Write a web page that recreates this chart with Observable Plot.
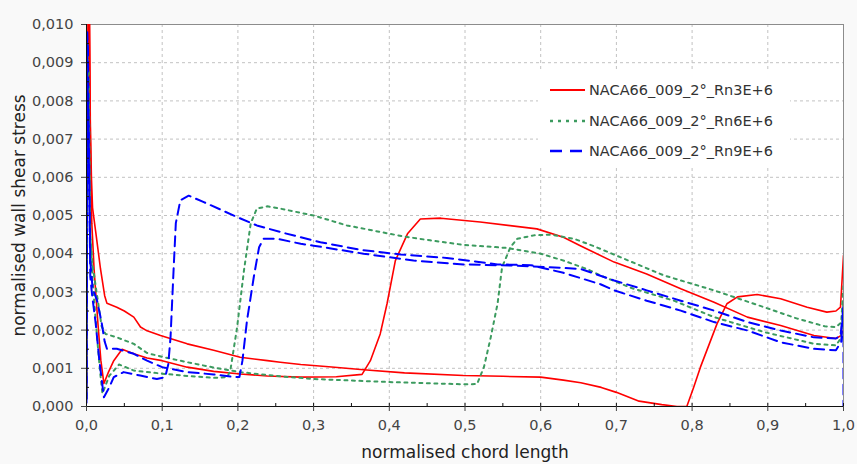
<!DOCTYPE html>
<html><head><meta charset="utf-8">
<script src="https://cdn.jsdelivr.net/npm/d3@7"></script>
<script src="https://cdn.jsdelivr.net/npm/@observablehq/plot@0.6"></script>
<style>
body{margin:0;background:#f9f9f9;font-family:"DejaVu Sans",Verdana,sans-serif}
#wrap{position:relative;width:857px;height:464px}
#legend{position:absolute;left:538px;top:70px;width:252px;height:96px;background:#fff}
#legend .row{position:absolute;left:12px;height:20px;display:flex;align-items:center}
#legend span{font-size:14.5px;color:#333;margin-left:3px;white-space:nowrap}
</style></head><body><div id="wrap"><div id="legend"></div></div>
<script>
// tick values
const xTicks = [0,0.1,0.2,0.3,0.4,0.5,0.6,0.7,0.8,0.9,1.0];
const xMinor = [0.05,0.1,0.15,0.2,0.25,0.3,0.35,0.4,0.45,0.5,0.55,0.6,0.65,0.7,0.75,0.8,0.85,0.9,0.95,1.0];
const yTicks = [0,0.001,0.002,0.003,0.004,0.005,0.006,0.007,0.008,0.009,0.010];
const yMinor = [0.0005,0.001,0.0015,0.002,0.0025,0.003,0.0035,0.004,0.0045,0.005,0.0055,0.006,0.0065,0.007,0.0075,0.008,0.0085,0.009,0.0095];

// series names
const seriesNames = ["NACA66_009_2°_Rn3E+6","NACA66_009_2°_Rn6E+6","NACA66_009_2°_Rn9E+6"];
const seriesColors = ["#ff0000","#3c9b5f","#0000ff"];
const seriesDash = [null,"3,4.5","10,6"];
const seriesWidth = [1.6,2,2];

// Rn3E+6 surface A (laminar, separation near 0.78)
const rn3A = [[0,0.0004],[0.001,0.006],[0.002,0.0104],[0.004,0.0104],[0.005,0.0075],[0.0065,0.006],[0.008,0.0052],[0.012,0.0046],[0.0185,0.0036],[0.024,0.0029],[0.027,0.0027],[0.04,0.0026],[0.05,0.0025],[0.0625,0.00234],[0.0713,0.00208],[0.08,0.00198],[0.0978,0.00186],[0.133,0.00164],[0.168,0.00147],[0.203,0.00129],[0.239,0.0012],[0.256,0.00116],[0.283,0.0011],[0.32,0.00104],[0.366,0.00096],[0.42,0.00088],[0.498,0.00081],[0.55,0.00079],[0.6,0.00077],[0.63,0.00069],[0.653,0.00062],[0.68,0.0005],[0.70,0.00037],[0.73,0.00014],[0.76,0.00005],[0.78,0.0],[0.793,0.0],[0.802,0.0005],[0.811,0.00103],[0.822,0.0016],[0.833,0.00217],[0.846,0.00269],[0.86,0.00287],[0.886,0.00293],[0.917,0.00282],[0.952,0.0026],[0.978,0.00247],[0.99,0.0025],[0.996,0.0026],[1.0,0.00395]];
// Rn3E+6 surface B (transition near 0.37)
const rn3B = [[0,0.0002],[0.0015,0.0085],[0.0035,0.0104],[0.005,0.0071],[0.007,0.0048],[0.01,0.0036],[0.015,0.0022],[0.019,0.0012],[0.023,0.0006],[0.029,0.0009],[0.036,0.0012],[0.047,0.0015],[0.0625,0.00138],[0.08,0.00127],[0.1,0.0012],[0.133,0.00103],[0.168,0.00092],[0.203,0.00085],[0.239,0.0008],[0.283,0.00077],[0.33,0.00078],[0.364,0.00084],[0.375,0.0012],[0.388,0.0019],[0.397,0.00269],[0.408,0.00382],[0.424,0.00452],[0.441,0.00491],[0.468,0.00493],[0.52,0.00483],[0.595,0.00465],[0.63,0.00443],[0.653,0.0042],[0.697,0.00378],[0.74,0.00347],[0.785,0.00308],[0.829,0.00273],[0.873,0.00234],[0.917,0.00212],[0.961,0.00186],[0.99,0.00178],[0.996,0.00185],[1.0,0.002]];
// Rn6E+6 surface A (transition near 0.52)
const rn6A = [[0,0.0002],[0.0015,0.009],[0.003,0.0088],[0.005,0.0045],[0.008,0.0037],[0.014,0.0029],[0.02,0.0021],[0.025,0.0019],[0.04,0.00181],[0.0625,0.00164],[0.08,0.0014],[0.1,0.0013],[0.133,0.00116],[0.168,0.00102],[0.203,0.0009],[0.256,0.00079],[0.3,0.00072],[0.4,0.00064],[0.5,0.00058],[0.516,0.00059],[0.525,0.00103],[0.534,0.00181],[0.543,0.00269],[0.549,0.00365],[0.56,0.00417],[0.569,0.00439],[0.591,0.00448],[0.613,0.0045],[0.644,0.00439],[0.67,0.0042],[0.705,0.00391],[0.763,0.00343],[0.829,0.00304],[0.895,0.0026],[0.939,0.0023],[0.975,0.0021],[0.99,0.00208],[0.997,0.0022],[1.0,0.0032]];
// Rn6E+6 surface B (transition near 0.19)
const rn6B = [[0,0.0003],[0.0015,0.0095],[0.003,0.0075],[0.005,0.0045],[0.008,0.0033],[0.014,0.0018],[0.018,0.0009],[0.021,0.00034],[0.03,0.0008],[0.043,0.0011],[0.0625,0.00094],[0.1,0.00086],[0.133,0.0008],[0.168,0.00075],[0.186,0.00077],[0.19,0.00094],[0.199,0.00208],[0.208,0.00356],[0.217,0.0048],[0.225,0.00518],[0.239,0.00524],[0.256,0.00518],[0.3,0.005],[0.344,0.00474],[0.419,0.00445],[0.454,0.00435],[0.498,0.00423],[0.556,0.00415],[0.6,0.004],[0.63,0.00382],[0.661,0.0036],[0.679,0.00343],[0.72,0.0031],[0.776,0.00277],[0.829,0.00234],[0.895,0.00195],[0.961,0.00164],[0.99,0.0016],[0.997,0.0018],[1.0,0.0028]];
// Rn9E+6 surface A (transition near 0.11)
const rn9A = [[0,0.0001],[0.001,0.0098],[0.002,0.0093],[0.003,0.0065],[0.005,0.0034],[0.0075,0.0029],[0.012,0.0022],[0.017,0.0012],[0.023,0.00024],[0.03,0.0005],[0.036,0.00077],[0.049,0.0009],[0.071,0.00081],[0.093,0.00072],[0.104,0.00077],[0.108,0.0011],[0.111,0.00181],[0.115,0.00356],[0.118,0.0048],[0.124,0.0054],[0.135,0.00552],[0.155,0.00535],[0.199,0.00496],[0.225,0.00474],[0.261,0.00454],[0.309,0.0043],[0.362,0.0041],[0.415,0.00398],[0.476,0.00389],[0.543,0.00372],[0.587,0.0037],[0.63,0.0035],[0.679,0.0032],[0.697,0.00304],[0.74,0.00277],[0.785,0.00251],[0.829,0.00221],[0.873,0.00199],[0.917,0.00168],[0.961,0.00151],[0.99,0.00147],[0.997,0.0017],[1.0,0.0026],[1.0,0]];
// Rn9E+6 surface B (transition near 0.205)
const rn9B = [[0,0.0002],[0.0012,0.0085],[0.003,0.0072],[0.005,0.0038],[0.008,0.0031],[0.014,0.00277],[0.02,0.0022],[0.024,0.0017],[0.027,0.00151],[0.04,0.00151],[0.0625,0.00138],[0.08,0.0012],[0.1,0.00103],[0.133,0.0009],[0.168,0.00084],[0.195,0.00077],[0.202,0.00077],[0.206,0.0012],[0.212,0.00225],[0.221,0.00339],[0.228,0.00417],[0.234,0.00439],[0.252,0.00439],[0.283,0.00426],[0.3,0.00421],[0.366,0.004],[0.432,0.00382],[0.498,0.00372],[0.564,0.00369],[0.609,0.00365],[0.653,0.0036],[0.697,0.0033],[0.74,0.00304],[0.785,0.00277],[0.829,0.00251],[0.873,0.00221],[0.917,0.00199],[0.961,0.00181],[0.99,0.00178],[0.996,0.00185],[1.0,0.0026]];

const curves = [[rn3A,0],[rn3B,0],[rn6A,1],[rn6B,1],[rn9A,2],[rn9B,2]];

const fmtY = d => d3.format(".3f")(d).replace(".", ",");
const fmtX = d => d3.format(".1f")(d).replace(".", ",");

const lineMarks = curves.map(([pts, s]) => Plot.line(pts, {
  x: d => d[0], y: d => d[1], stroke: seriesColors[s],
  strokeWidth: seriesWidth[s], strokeDasharray: seriesDash[s],
  strokeLinejoin: "round", clip: true
}));

const chart = Plot.plot({
  width: 857, height: 464,
  marginLeft: 86, marginRight: 14, marginTop: 24, marginBottom: 58,
  style: {background: "transparent", fontFamily: "DejaVu Sans, Verdana, sans-serif", overflow: "visible"},
  x: {domain: [0, 1]},
  y: {domain: [0, 0.010]},
  marks: [
    Plot.frame({fill: "white", stroke: null}),
    Plot.gridX(xTicks, {stroke: "#c2c2c2", strokeOpacity: 1, strokeDasharray: "3,3"}),
    Plot.gridY(yTicks, {stroke: "#c2c2c2", strokeOpacity: 1, strokeDasharray: "3,3"}),
    Plot.frame({stroke: "#8c8c8c"}),
    ...lineMarks,
    Plot.ruleX([0], {stroke: "#111"}),
    Plot.ruleY([0], {stroke: "#111"}),
    Plot.ruleX(xMinor, {insetTop: 379, stroke: "#111"}),
    Plot.ruleY(yMinor, {insetRight: 754, stroke: "#111"}),
    Plot.axisX(xTicks, {tickSize: 5, tickPadding: 8, tickFormat: fmtX, fontSize: 14.5, color: "#444", label: null}),
    Plot.axisY(yTicks, {tickSize: 5, tickPadding: 8, tickFormat: fmtY, fontSize: 14.5, color: "#444", label: null}),
    Plot.text(["normalised chord length"], {frameAnchor: "bottom", lineAnchor: "middle", dy: 46, fontSize: 17, fill: "#222"}),
    Plot.text(["normalised wall shear stress"], {frameAnchor: "left", textAnchor: "middle", lineAnchor: "middle", dx: -67, rotate: -90, fontSize: 17, fill: "#222"})
  ]
});
const wrap = document.getElementById("wrap");
wrap.insertBefore(chart, wrap.firstChild);

// legend
const legend = d3.select("#legend");
seriesNames.forEach((name, i) => {
  const row = legend.append("div").attr("class", "row").style("top", (10 + i * 30.5) + "px");
  const svg = row.append("svg").attr("width", 36).attr("height", 10);
  svg.append("line").attr("x1", 0).attr("x2", 35).attr("y1", 5).attr("y2", 5)
    .attr("stroke", seriesColors[i]).attr("stroke-width", seriesWidth[i] + 0.4)
    .attr("stroke-dasharray", i === 1 ? "3,5" : i === 2 ? "12,8" : null);
  row.append("span").text(name);
});
</script></body></html>
